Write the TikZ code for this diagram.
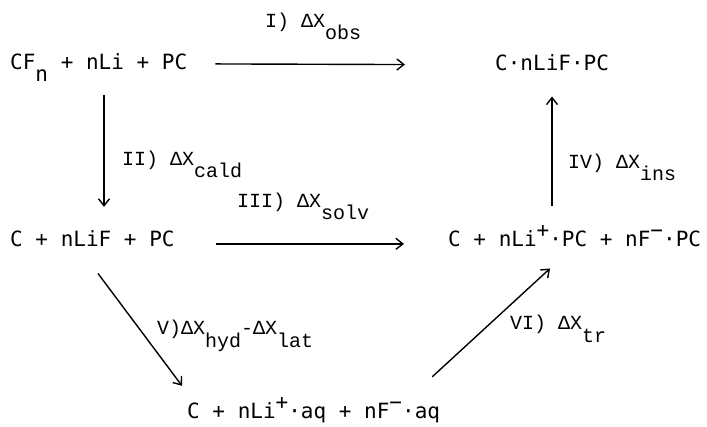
\documentclass[tikz,border=0pt]{standalone}
\usepackage{fontspec}
\usepackage{tikz}
\usetikzlibrary{arrows.meta}
\newfontfamily\chemfont{DejaVu Sans Mono}
\newfontfamily\labfont{Liberation Mono}
\newcommand{\dnsub}[1]{\raisebox{-12pt}{#1}}
\newcommand{\upsup}[1]{\raisebox{9pt}{#1}}
\tikzset{
  chem/.style={inner sep=0pt,anchor=base west,font=\chemfont\fontsize{21}{25}\selectfont},
  lbl/.style={inner sep=0pt,anchor=base west,font=\labfont\fontsize{20}{24}\selectfont},
  arr/.style={-{Straight Barb[length=7pt,width=11pt]},line width=1.4pt}
}

\begin{document}
\begin{tikzpicture}[x=1pt,y=1pt]
\useasboundingbox (0,0) rectangle (707,426);

% species
\node[chem] (cfn) at (10,356) {CF\dnsub{n} + nLi + PC};
\node[chem] (prod) at (495,355) {C·nLiF·PC};
\node[chem] (lif) at (10,179) {C + nLiF + PC};
\node[chem] (ions) at (448,179) {C + nLi\upsup{+}·PC + nF\upsup{−}·PC};
\node[chem] (aq) at (187,8) {C + nLi\upsup{+}·aq + nF\upsup{−}·aq};

% steps
\node[lbl] (lI) at (265,398) {I) ΔX\dnsub{obs}};
\node[lbl] (lII) at (122,260) {II) ΔX\dnsub{cald}};
\node[lbl] (lIII) at (237,218) {III) ΔX\dnsub{solv}};
\node[lbl] (lIV) at (568,257) {IV) ΔX\dnsub{ins}};
\node[lbl] (lV) at (157,91) {V)ΔX\dnsub{hyd}-ΔX\dnsub{lat}};
\node[lbl] (lVI) at (510,96) {VI) ΔX\dnsub{tr}};

\draw[arr,shorten <=28pt,shorten >=90pt] ([yshift=4pt]cfn.mid east) -- ([yshift=4pt]prod.mid west);
\draw[arr,shorten <=13pt,shorten >=24pt] ([xshift=94pt]cfn.south west) -- ([xshift=94pt]lif.north west);
\draw[arr,shorten <=41pt,shorten >=44pt] ([yshift=1pt]lif.mid east) -- ([yshift=1pt]ions.mid west);
\draw[arr,shorten <=20pt,shorten >=25pt] ([xshift=104pt]ions.north west) -- ([xshift=57pt]prod.south west);
\draw[arr] ([xshift=88pt,yshift=-26pt]lif.south west) -- ([xshift=-5pt,yshift=11pt]aq.north west);
\draw[arr] ([xshift=-8pt,yshift=20pt]aq.north east) -- ([xshift=102pt,yshift=-21pt]ions.south west);
\end{tikzpicture}
\end{document}
